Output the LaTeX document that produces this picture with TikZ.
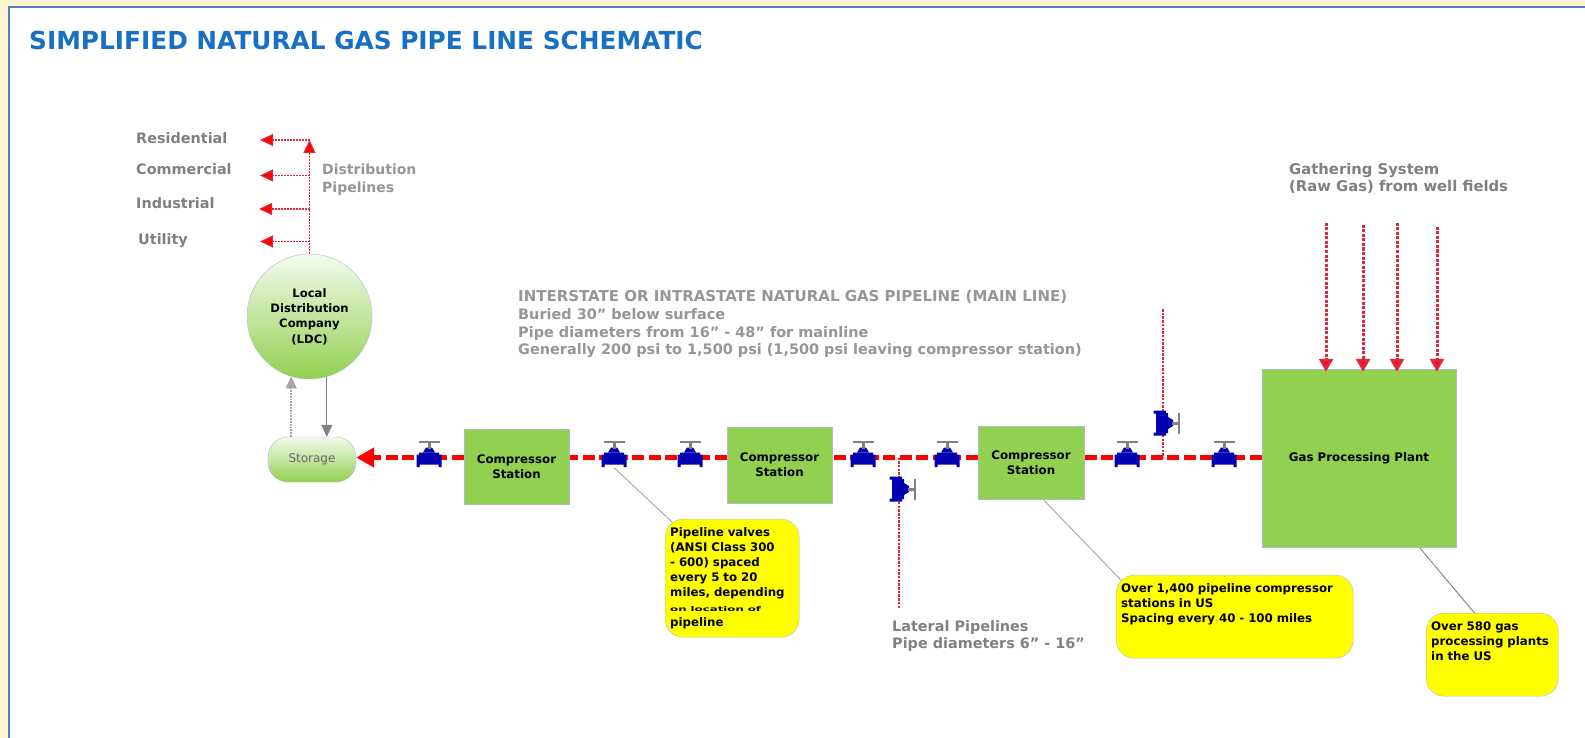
\documentclass[tikz,border=0pt]{standalone}
\usepackage{fontspec}
\setmainfont{DejaVu Sans}
\usepackage{xcolor}
\usetikzlibrary{arrows.meta, backgrounds}
\definecolor{pagebg}{RGB}{255,243,208}
\definecolor{frameblue}{RGB}{79,129,189}
\definecolor{titleblue}{RGB}{24,112,196}
\definecolor{labelgray}{RGB}{128,128,132}
\definecolor{softgray}{RGB}{150,150,152}
\definecolor{plantgreen}{RGB}{146,208,80}
\definecolor{pipered}{RGB}{255,0,0}
\definecolor{thinred}{RGB}{222,40,60}
\definecolor{valveblue}{RGB}{0,0,176}
\definecolor{edgegray}{RGB}{176,186,196}
\definecolor{noteyellow}{RGB}{255,255,0}
\begin{document}
\begin{tikzpicture}[
  x=1pt, y=1pt,
  every node/.style={inner sep=0pt},
  lbl/.style={anchor=west, align=left, text=labelgray, font=\fontsize{14.4}{17.5}\selectfont\bfseries},
  stn/.style={rectangle, draw=edgegray, fill=plantgreen, align=center,
              font=\fontsize{11.8}{15}\selectfont\bfseries},
  blob/.style={draw=edgegray, top color=plantgreen!10, bottom color=plantgreen, align=center},
  callout/.style={rectangle, rounded corners=18pt, draw=edgegray, fill=noteyellow, anchor=north west,
                  inner xsep=5pt, inner ysep=6pt, align=left, text height=11pt,
                  font=\fontsize{11.8}{15}\selectfont\bfseries},
  valvept/.style={minimum width=25pt, minimum height=20pt},
  mainpipe/.style={line width=4.5pt, pipered, dash pattern=on 12pt off 4.5pt},
  redarr/.style={thinred, line width=1.2pt, dash pattern=on 2pt off 1pt,
                 -{Triangle[length=13pt,width=12pt,fill=pipered]}},
  lateral/.style={thinred, line width=1.8pt, dash pattern=on 2.5pt off 1.2pt},
  feedarr/.style={thinred, line width=3pt, dash pattern=on 3pt off 1.5pt, shorten >=-3pt,
                  -{Triangle[length=13pt,width=14pt,fill=pipered]}},
  grayarr/.style={gray, line width=1.1pt, -{Triangle[length=12pt,width=11pt]}},
  leader/.style={gray!70, line width=0.9pt},
  valve/.pic={
    \fill[valveblue] (-12.5,3) rectangle (-9.5,-9.5) (9.5,3) rectangle (12.5,-9.5)
                     (-10,5) rectangle (10,-7);
    \fill[valveblue] (-6,5) -- (-3,10) -- (3,10) -- (6,5) -- cycle;
    \fill[gray] (-1.5,9) rectangle (1.5,15);
    \fill[gray] (-10.5,15) rectangle (10.5,17);
  }
]
\useasboundingbox (0,0) rectangle (1585,-738);

\node[anchor=west, text=titleblue, font=\fontsize{24.8}{28}\selectfont\bfseries] (title) at (29,-40)
  {SIMPLIFIED NATURAL GAS PIPE LINE SCHEMATIC};

\node[lbl] (resid) at (136,-138) {Residential};
\node[lbl] (comm) at (136,-169.5) {Commercial};
\node[lbl] (indus) at (136,-203) {Industrial};
\node[lbl] (util) at (138,-241) {Utility};
\node[lbl, text=softgray, font=\fontsize{14}{18}\selectfont\bfseries] (distr) at (322,-179.5) {Distribution\\Pipelines};

\node[blob, circle, minimum size=125pt, font=\fontsize{11.6}{15.3}\selectfont\bfseries] (ldc) at (309.5,-316.5)
  {Local\\Distribution\\Company\\(LDC)};
\node[blob, rectangle, rounded corners=20pt, minimum width=88pt, minimum height=45pt,
      text=labelgray!80!black, font=\fontsize{12}{13}\selectfont] (storage) at (312,-459.5) {Storage};

\node[lbl, text=softgray, font=\fontsize{14.45}{17.8}\selectfont\bfseries] (main) at (518,-324)
  {{\fontsize{15}{17.8}\selectfont INTERSTATE OR INTRASTATE NATURAL GAS PIPELINE (MAIN LINE)}\\
   Buried 30" below surface\\
   Pipe diameters from 16" - 48" for mainline\\
   Generally 200 psi to 1,500 psi (1,500 psi leaving compressor station)};

\node[stn, minimum width=105pt, minimum height=75pt] (c1) at (516.5,-466.5) {Compressor\\Station};
\node[stn, minimum width=105pt, minimum height=76pt] (c2) at (779.5,-465) {Compressor\\Station};
\node[stn, minimum width=106pt, minimum height=73pt] (c3) at (1031,-462.5) {Compressor\\Station};
\node[stn, minimum width=194pt, minimum height=178pt] (plant) at (1359,-458) {Gas Processing Plant};

\node[valvept] (v1) at (429,-457.5) {};
\node[valvept] (v2) at (614,-457.5) {};
\node[valvept] (v3) at (690,-457.5) {};
\node[valvept] (v4) at (863,-457.5) {};
\node[valvept] (v5) at (947,-457.5) {};
\node[valvept] (v6) at (1127,-457.5) {};
\node[valvept] (v7) at (1224,-457.5) {};
\node[valvept] (v8) at (899,-489) {};
\node[valvept] (v9) at (1163,-423) {};

\coordinate (latup) at (1163,-309);
\coordinate (latdown) at (899,-608);
\coordinate (g1) at (1326,-223);
\coordinate (g2) at (1363,-225);
\coordinate (g3) at (1397,-223);
\coordinate (g4) at (1437,-227);
\coordinate (dtop) at (309.5,-140);
\coordinate (d1) at (260,-140);
\coordinate (d2) at (260,-175.5);
\coordinate (d3) at (259,-209);
\coordinate (d4) at (260,-241.5);

\node[lbl, font=\fontsize{14.8}{17.5}\selectfont\bfseries] (gath) at (1289,-178.5)
  {Gathering System\\(Raw Gas) from well fields};
\node[lbl] (lat) at (892,-636)
  {Lateral Pipelines\\Pipe diameters 6" - 16"};

\node[callout, text width=124pt, text depth=95pt] (call1) at (665,-519)
  {Pipeline valves\\(ANSI Class 300\\- 600) spaced\\every 5 to 20\\miles, depending\\
   \scalebox{1}[0.55]{on location of}\\pipeline};
\node[callout, text width=227pt, text depth=60pt] (call2) at (1116,-575)
  {Over 1,400 pipeline compressor\\stations in US\\Spacing every 40 - 100 miles};
\node[callout, text width=122pt, text depth=60pt] (call3) at (1426,-613)
  {Over 580 gas\\processing plants\\in the US};

\begin{scope}[on background layer]
\fill[pagebg] (0,0) rectangle (1585,-738);
\fill[white] (9,-7) rectangle (1585,-738);
\draw[frameblue, line width=2.2pt] (1585,-7) -- (9,-7) -- (9,-738);
\draw[mainpipe, -{Triangle[length=18pt,width=19pt]}] (c1.west |- v1) -- (storage.east |- v1);
\draw[mainpipe] (c2.west |- v1) -- (c1.east |- v1);
\draw[mainpipe] (c3.west |- v1) -- (c2.east |- v1);
\draw[mainpipe] (plant.west |- v1) -- (c3.east |- v1);
\draw[lateral] (latup) -- (latup |- v1);
\draw[lateral] (latdown) -- (latdown |- v1);
\draw[redarr] (ldc.north) -- (dtop);
\draw[redarr] (dtop) -- (d1);
\draw[redarr] (dtop |- d2) -- (d2);
\draw[redarr] (dtop |- d3) -- (d3);
\draw[redarr] (dtop |- d4) -- (d4);
\draw[grayarr, line width=1.8pt, gray!70, densely dotted] (ldc.253 |- storage.north) -- (ldc.253);
\draw[grayarr] (ldc.286) -- (ldc.286 |- storage.north);
\draw[leader] (v2.south) -- (call1.center);
\draw[leader, shorten >=-8pt] (c3.-72) -- (call2.north west);
\draw[leader, gray] (plant.-56) -- (call3.113);
\end{scope}

\draw[feedarr] (g1) -- (g1 |- plant.north);
\draw[feedarr] (g2) -- (g2 |- plant.north);
\draw[feedarr] (g3) -- (g3 |- plant.north);
\draw[feedarr] (g4) -- (g4 |- plant.north);
\pic at (v1) {valve};
\pic at (v2) {valve};
\pic at (v3) {valve};
\pic at (v4) {valve};
\pic at (v5) {valve};
\pic at (v6) {valve};
\pic at (v7) {valve};
\pic[rotate=-90] at (v8) {valve};
\pic[rotate=-90] at (v9) {valve};
\end{tikzpicture}
\end{document}
